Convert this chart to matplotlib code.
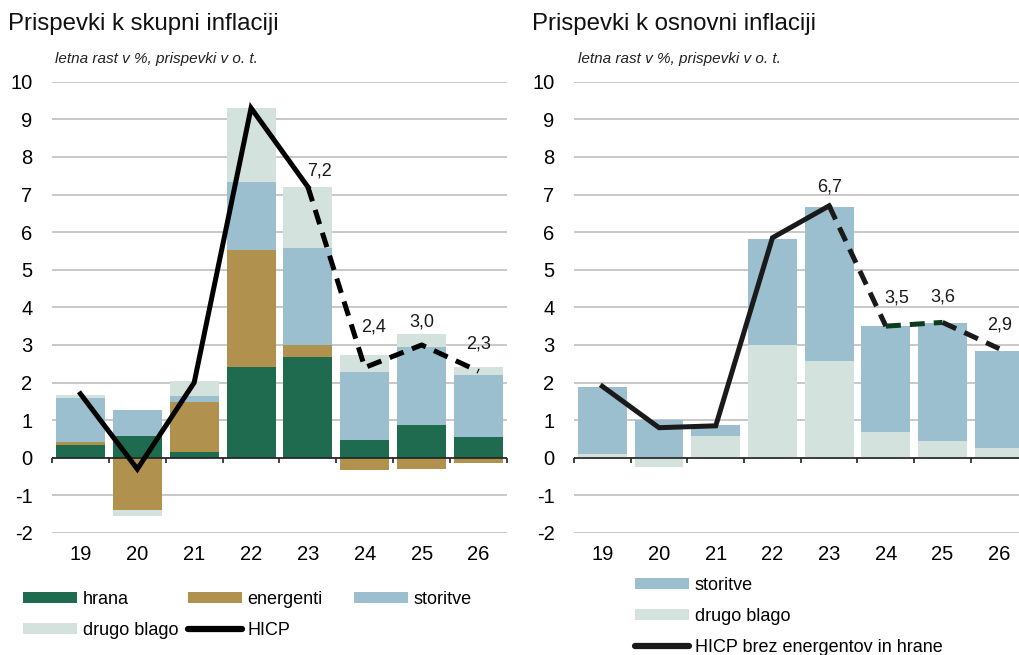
import matplotlib
matplotlib.use("Agg")
import matplotlib.pyplot as plt
from matplotlib.patches import Patch
from matplotlib.lines import Line2D
import numpy as np

# ---------------- data ----------------
years = ["19", "20", "21", "22", "23", "24", "25", "26"]

# left chart: contributions to headline inflation
hrana = [0.33, 0.58, 0.15, 2.41, 2.69, 0.46, 0.88, 0.54]
energenti = [0.10, -1.40, 1.32, 3.11, 0.31, -0.32, -0.30, -0.14]
storitve_l = [1.17, 0.68, 0.18, 1.82, 2.58, 1.83, 2.07, 1.66]
drugo_l = [0.07, -0.16, 0.39, 1.96, 1.61, 0.44, 0.34, 0.22]
hicp = [1.7, -0.3, 2.0, 9.3, 7.2, 2.4, 3.0, 2.3]
hicp_labels = ["", "", "", "", "7,2", "2,4", "3,0", "2,3"]

# right chart: contributions to core inflation
drugo_r = [0.09, -0.25, 0.58, 3.00, 2.57, 0.68, 0.45, 0.26]
storitve_r = [1.79, 1.00, 0.28, 2.83, 4.09, 2.83, 3.14, 2.57]
core = [1.9, 0.8, 0.85, 5.85, 6.7, 3.5, 3.6, 2.9]
core_labels = ["", "", "", "", "6,7", "3,5", "3,6", "2,9"]

# ---------------- style ----------------
C_HRANA = "#1f6b50"
C_ENER = "#b0914e"
C_STOR = "#9bbfcf"
C_DRUGO = "#d3e2dc"
C_GRID = "#c4c4c4"
NARROW = ["Liberation Sans Narrow", "Liberation Sans", "DejaVu Sans"]
REG = ["Liberation Sans", "DejaVu Sans"]

plt.rcParams["font.family"] = REG

W, H = 1020, 655
fig = plt.figure(figsize=(W / 100, H / 100), dpi=100)


def px_axes(x0, x1, ytop, ybot):
    return fig.add_axes([x0 / W, 1 - ybot / H, (x1 - x0) / W, (ybot - ytop) / H])


def stack(ax, x, series, colors, width):
    pos = np.zeros(len(x))
    neg = np.zeros(len(x))
    for vals, col in zip(series, colors):
        v = np.array(vals, dtype=float)
        base = np.where(v >= 0, pos, neg)
        ax.bar(x, v, width=width, bottom=base, color=col, edgecolor="none", zorder=2)
        pos = np.where(v >= 0, pos + v, pos)
        neg = np.where(v < 0, neg + v, neg)


def style_axes(ax):
    ax.set_xlim(-0.5, 7.5)
    ax.set_ylim(-2, 10)
    ax.set_yticks(range(-2, 11))
    ax.set_yticklabels([str(v) for v in range(-2, 11)], fontfamily=NARROW, fontsize=14.5)
    ax.set_xticks(range(len(years)))
    ax.set_xticklabels(years, fontfamily=NARROW, fontsize=14.5)
    ax.tick_params(axis="both", length=0)
    ax.tick_params(axis="y", pad=14)
    ax.tick_params(axis="x", pad=9)
    for s in ax.spines.values():
        s.set_visible(False)
    ax.grid(axis="y", color=C_GRID, lw=1.3, zorder=0)
    ax.set_axisbelow(True)
    ax.axhline(0, color="#222222", lw=1.2, zorder=3)
    ax.vlines(np.arange(-0.5, 8.0, 1.0), -0.15, 0, color="#222222", lw=1.2, zorder=3,
              clip_on=False)


def label_points(ax, x, vals, labels, dx, dy):
    for xi, v, lab, ox, oy in zip(x, vals, labels, dx, dy):
        if lab:
            ax.text(xi + ox, v + oy, lab, ha="center", va="center",
                    fontfamily=NARROW, fontsize=13, color="#1a1a1a", zorder=5)


x = np.arange(len(years))
BW = 0.86
LW = 3.6

# ---------------- left chart ----------------
axL = px_axes(52, 507, 81.7, 533)
style_axes(axL)
stack(axL, x, [hrana, energenti, storitve_l, drugo_l], [C_HRANA, C_ENER, C_STOR, C_DRUGO], BW)
axL.plot(x[:5], hicp[:5], color="black", lw=LW, solid_joinstyle="miter", zorder=4)
axL.plot(x[4:], hicp[4:], color="black", lw=LW, dashes=(3.0, 1.8), zorder=4)
label_points(axL, x, hicp, hicp_labels,
             [0, 0, 0, 0, 0.2, 0.15, 0, 0], [0, 0, 0, 0, 0.42, 1.08, 0.62, 0.73])

fig.text(8 / W, 1 - 24 / H, "Prispevki k skupni inflaciji", fontsize=17.3, va="center",
         ha="left", fontfamily=REG, color="#111111")
fig.text(55 / W, 1 - 59 / H, "letna rast v %, prispevki v o. t.", fontsize=11,
         style="italic", va="center", ha="left", fontfamily=NARROW, color="#222222")

# ---------------- right chart ----------------
axR = px_axes(574, 1027.6, 81.7, 533)
style_axes(axR)
stack(axR, x, [drugo_r, storitve_r], [C_DRUGO, C_STOR], BW)
axR.plot(x[:5], core[:5], color="#1a1a1a", lw=LW, solid_joinstyle="miter", zorder=4)
axR.plot(x[4:6], core[4:6], color="#1a1a1a", lw=LW, dashes=(3.0, 1.8), zorder=4)
axR.plot(x[5:7], core[5:7], color="#0b3d1c", lw=LW, dashes=(3.0, 1.8), zorder=4)
axR.plot(x[6:], core[6:], color="#1a1a1a", lw=LW, dashes=(3.0, 1.8), zorder=4)
label_points(axR, x, core, core_labels,
             [0, 0, 0, 0, 0, 0.2, 0, 0], [0, 0, 0, 0, 0.49, 0.75, 0.67, 0.64])

fig.text(532 / W, 1 - 24 / H, "Prispevki k osnovni inflaciji", fontsize=17.3, va="center",
         ha="left", fontfamily=REG, color="#111111")
fig.text(578 / W, 1 - 59 / H, "letna rast v %, prispevki v o. t.", fontsize=11,
         style="italic", va="center", ha="left", fontfamily=NARROW, color="#222222")

# ---------------- legends ----------------
h_hrana = Patch(facecolor=C_HRANA, label="hrana")
h_ener = Patch(facecolor=C_ENER, label="energenti")
h_stor = Patch(facecolor=C_STOR, label="storitve")
h_drugo = Patch(facecolor=C_DRUGO, label="drugo blago")
h_hicp = Line2D([], [], color="black", lw=4.5, solid_capstyle="round", label="HICP")
h_core = Line2D([], [], color="#1a1a1a", lw=4.5, solid_capstyle="round",
                label="HICP brez energentov in hrane")

leg_kw = dict(frameon=False, handlelength=3.0, handleheight=0.55,
              handletextpad=0.3, labelspacing=0.78, borderaxespad=0, borderpad=0,
              prop={"family": REG, "size": 13}, loc="upper left")

# left legend: three columns placed at their own x positions
for col_handles, xpx in [([h_hrana, h_drugo], 23), ([h_ener, h_hicp], 188), ([h_stor], 354)]:
    fig.legend(handles=col_handles, ncol=1, bbox_to_anchor=(xpx / W, 1 - 591 / H), **leg_kw)

# right legend
fig.legend(handles=[h_stor, h_drugo, h_core], ncol=1,
           bbox_to_anchor=(635 / W, 1 - 577 / H), **leg_kw)

fig.savefig("out.png", dpi=100)
